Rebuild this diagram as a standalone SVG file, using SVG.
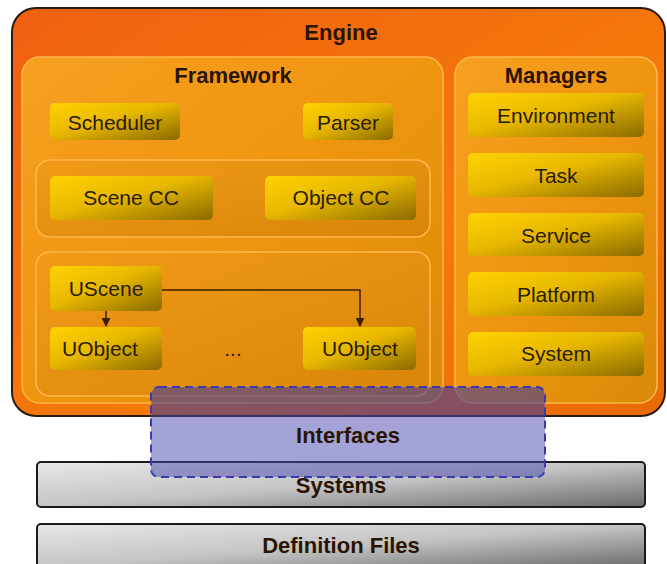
<svg xmlns="http://www.w3.org/2000/svg" width="667" height="564" viewBox="0 0 667 564">
<defs>
<linearGradient id="gEng" x1="0" y1="0" x2="1" y2="1"><stop offset="0" stop-color="#F06010"/><stop offset="0.6" stop-color="#F57A0A"/><stop offset="1" stop-color="#E86A05"/></linearGradient>
<linearGradient id="gPan" x1="0" y1="0" x2="1" y2="1"><stop offset="0" stop-color="#F7A020"/><stop offset="0.5" stop-color="#EE9510"/><stop offset="1" stop-color="#D98A08"/></linearGradient>
<linearGradient id="gIn" x1="0" y1="0" x2="1" y2="1"><stop offset="0" stop-color="#F29A18"/><stop offset="1" stop-color="#D88508"/></linearGradient>
<linearGradient id="gNode" x1="0" y1="0" x2="1" y2="1"><stop offset="0" stop-color="#FFD200"/><stop offset="0.45" stop-color="#E8B800"/><stop offset="1" stop-color="#8A6A00"/></linearGradient>
<linearGradient id="gGray" x1="0" y1="0" x2="1" y2="1"><stop offset="0" stop-color="#E8E8E8"/><stop offset="0.5" stop-color="#C4C4C4"/><stop offset="1" stop-color="#6A6A6A"/></linearGradient>
<marker id="ah" viewBox="0 0 10 10" refX="9" refY="5" markerWidth="6" markerHeight="6" orient="auto"><path d="M0,0 L10,5 L0,10 z" fill="#3A2000"/></marker>
</defs>
<style>
.t{font-family:"Liberation Sans",Arial,sans-serif;font-size:21px;fill:#2A1C00;text-anchor:middle;}
.h{font-family:"Liberation Sans",Arial,sans-serif;font-size:22px;font-weight:bold;fill:#2A1400;text-anchor:middle;}
.node{fill:url(#gNode);stroke:none;}
.pan{fill:url(#gPan);stroke:#FFB84A;stroke-width:1.5;}
.inner{fill:url(#gIn);stroke:#FFB84A;stroke-width:1.5;}
.bar{fill:url(#gGray);stroke:#1A1A1A;stroke-width:2;}
.conn{fill:none;stroke:#3A2000;stroke-width:1.5;}
</style>
<rect width="667" height="564" fill="#FFFFFF"/>
<g id="engine">
<rect x="12" y="8" width="653" height="408" rx="24" fill="url(#gEng)" stroke="#2A1A10" stroke-width="2"/>
<text class="h" x="341" y="40">Engine</text>
</g>
<g id="framework">
<rect class="pan" x="22" y="57" width="421" height="346" rx="18"/>
<text class="h" x="233" y="83">Framework</text>
</g>
<g id="managers">
<rect class="pan" x="455" y="57" width="202" height="346" rx="18"/>
<text class="h" x="556" y="83">Managers</text>
</g>
<g id="cc-group"><rect class="inner" x="36" y="160" width="394" height="77" rx="14"/></g>
<g id="u-group"><rect class="inner" x="36" y="252" width="394" height="144" rx="14"/></g>
<g id="scheduler"><rect class="node" x="50" y="103" width="130" height="37" rx="5"/><text class="t" x="115" y="130">Scheduler</text></g>
<g id="parser"><rect class="node" x="303" y="103" width="90" height="37" rx="5"/><text class="t" x="348" y="130">Parser</text></g>
<g id="scenecc"><rect class="node" x="50" y="176" width="163" height="44" rx="5"/><text class="t" x="131" y="205">Scene CC</text></g>
<g id="objectcc"><rect class="node" x="265" y="176" width="151" height="44" rx="5"/><text class="t" x="341" y="205">Object CC</text></g>
<g id="uscene"><rect class="node" x="50" y="266" width="112" height="45" rx="5"/><text class="t" x="106" y="296">UScene</text></g>
<g id="uobject1"><rect class="node" x="50" y="327" width="112" height="43" rx="5"/><text class="t" x="100" y="356">UObject</text></g>
<g id="dots"><text class="t" x="233" y="356" font-size="16">...</text></g>
<g id="uobject2"><rect class="node" x="303" y="327" width="113" height="43" rx="5"/><text class="t" x="360" y="356">UObject</text></g>
<g id="environment"><rect class="node" x="468" y="93" width="176" height="44" rx="5"/><text class="t" x="556" y="123">Environment</text></g>
<g id="task"><rect class="node" x="468" y="153" width="176" height="44" rx="5"/><text class="t" x="556" y="183">Task</text></g>
<g id="service"><rect class="node" x="468" y="213" width="176" height="43" rx="5"/><text class="t" x="556" y="243">Service</text></g>
<g id="platform"><rect class="node" x="468" y="272" width="176" height="44" rx="5"/><text class="t" x="556" y="302">Platform</text></g>
<g id="system"><rect class="node" x="468" y="332" width="176" height="44" rx="5"/><text class="t" x="556" y="361">System</text></g>
<g id="connectors">
<path class="conn" d="M106,311 L106,326" marker-end="url(#ah)"/>
<path class="conn" d="M162,290 L360,290 L360,326" marker-end="url(#ah)"/>
</g>
<g id="systems"><rect class="bar" x="37" y="462" width="608" height="45" rx="4"/><text class="h" x="341" y="493">Systems</text></g>
<g id="deffiles"><rect class="bar" x="37" y="524" width="608" height="44" rx="4"/><text class="h" x="341" y="553">Definition Files</text></g>
<g id="interfaces">
<path d="M152,395 Q152,388 159,388 L537,388 Q544,388 544,395 L544,415 L152,415 Z" fill="#300030" fill-opacity="0.22"/>
<rect x="151" y="387" width="394" height="90" rx="8" fill="#4848B0" fill-opacity="0.5" stroke="#3A3AB0" stroke-width="2" stroke-dasharray="8,5"/>
<text class="h" x="348" y="443">Interfaces</text>
</g>
</svg>
